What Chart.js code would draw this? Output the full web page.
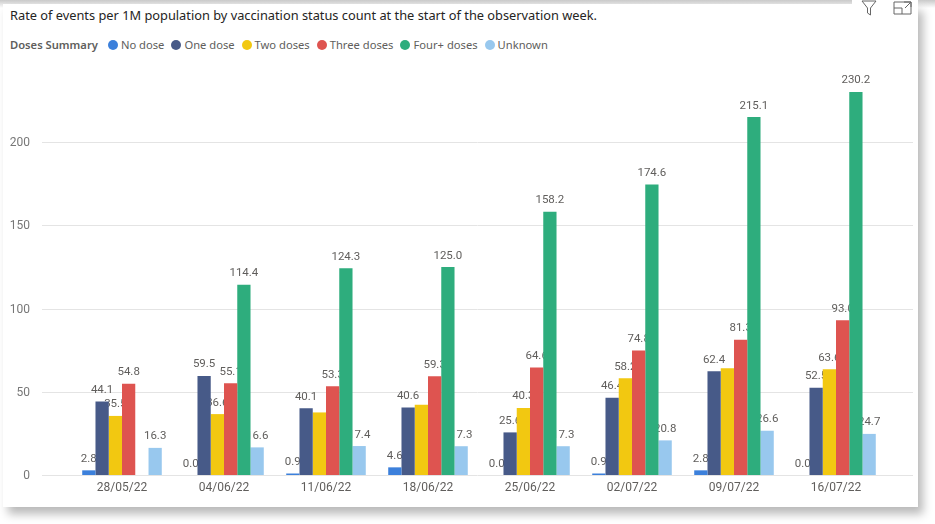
<!DOCTYPE html>
<html>
<head>
<meta charset="utf-8">
<script src="https://cdn.jsdelivr.net/npm/chart.js@4.4.1/dist/chart.umd.min.js"></script>
<style>
  body { margin: 0; width: 935px; height: 524px; background: #fff; overflow: hidden; position: relative; font-family: "Segoe UI", "Noto Sans", sans-serif; }
  .topshade { position: absolute; left: 0; top: 0; width: 935px; height: 8px; background: linear-gradient(#c9c9c9, #fff); }
  .card { position: absolute; left: 3px; top: 4px; width: 915px; height: 503px; background: #fff; box-shadow: 5px 7px 9px rgba(0, 0, 0, 0.28); }
  .icons { position: absolute; left: 852px; top: 0; width: 66px; height: 17px; background: #fff; }
  .title { position: absolute; left: 10px; top: 6px; font-size: 12.8px; color: #252423; white-space: nowrap; }
  .legend { position: absolute; left: 10px; top: 37px; font-size: 11.2px; color: #605E5C; display: flex; align-items: center; white-space: nowrap; }
  .legend b { font-weight: 600; margin-right: 10px; }
  .legend span.item { display: flex; align-items: center; margin-right: 7px; }
  .legend i { display: inline-block; width: 10px; height: 10px; border-radius: 50%; margin-right: 3px; }
  .wrap { position: absolute; left: 0; top: 0; width: 918px; height: 507px; }
  canvas { display: block; }
</style>
</head>
<body>
<div class="topshade"></div>
<div class="card"></div>
<div class="icons">
  <svg width="66" height="17" viewBox="0 0 66 17">
    <path d="M10 1 L24 1 L18.5 8 L18.5 15 L15.5 13 L15.5 8 Z" fill="none" stroke="#666" stroke-width="1"/>
    <path d="M42 2 L42 14 L59 14 L59 2 Z M42 8 L50 8 L50 14 M52 2 L59 2 L59 7 M59 2 L53 8" fill="none" stroke="#666" stroke-width="1"/>
  </svg>
</div>
<div class="title">Rate of events per 1M population by vaccination status count at the start of the observation week.</div>
<div class="legend" id="legend"><b>Doses Summary</b></div>
<div class="wrap"><canvas id="chart" width="918" height="507"></canvas></div>
<script>
const categories = ['28/05/22', '04/06/22', '11/06/22', '18/06/22', '25/06/22', '02/07/22', '09/07/22', '16/07/22'];
const seriesNames = ['No dose', 'One dose', 'Two doses', 'Three doses', 'Four+ doses', 'Unknown'];
const seriesColors = ['#3C80DB', '#475A88', '#F2C811', '#DE5450', '#2EAD7D', '#98C8EE'];

const noDose = [2.8, 0.0, 0.9, 4.6, 0.0, 0.9, 2.8, 0.0];
const oneDose = [44.1, 59.5, 40.1, 40.6, 25.6, 46.4, 62.4, 52.5];
const twoDoses = [35.5, 36.6, 37.6, 42.2, 40.3, 58.2, 64.2, 63.6];
const threeDoses = [54.8, 55.1, 53.3, 59.3, 64.6, 74.8, 81.3, 93.0];
const fourPlusDoses = [null, 114.4, 124.3, 125.0, 158.2, 174.6, 215.1, 230.2];
const unknown = [16.3, 16.6, 17.4, 17.3, 17.3, 20.8, 26.6, 24.7];

const yTicks = [0, 50, 100, 150, 200];
// labels Power BI dropped because they collided
const hiddenTwoDoseLabels = ['11/06/22', '18/06/22', '09/07/22'];

const seriesValues = [noDose, oneDose, twoDoses, threeDoses, fourPlusDoses, unknown];

function buildLegend() {
    const legend = document.getElementById('legend');
    seriesNames.forEach((name, i) => {
        const item = document.createElement('span');
        item.className = 'item';
        item.innerHTML = `<i style="background:${seriesColors[i]}"></i>${name}`;
        legend.appendChild(item);
    });
}

// gridlines run wider than the bars in Power BI, so draw them (and the y labels) here
const gridLines = {
    id: 'gridLines',
    beforeDatasetsDraw(chart) {
        const { ctx, chartArea } = chart;
        const y = chart.scales.y;
        ctx.save();
        ctx.strokeStyle = '#e4e4e4';
        ctx.lineWidth = 1;
        ctx.font = '12px Roboto';
        ctx.fillStyle = '#777777';
        ctx.textAlign = 'right';
        ctx.textBaseline = 'middle';
        yTicks.forEach(v => {
            const py = Math.round(y.getPixelForValue(v)) + 0.5;
            ctx.beginPath();
            ctx.moveTo(chartArea.left - 29, py);
            ctx.lineTo(chartArea.right + 26, py);
            ctx.stroke();
            ctx.fillText(String(v), chartArea.left - 41, py);
        });
        ctx.restore();
    }
};

// labels go behind the bars, like the original
const valueLabels = {
    id: 'valueLabels',
    beforeDatasetsDraw(chart) {
        const ctx = chart.ctx;
        ctx.save();
        ctx.font = '11.5px Roboto';
        ctx.fillStyle = '#605E5C';
        ctx.textAlign = 'center';
        ctx.textBaseline = 'alphabetic';
        chart.data.datasets.forEach((ds, i) => {
            const meta = chart.getDatasetMeta(i);
            meta.data.forEach((bar, j) => {
                const v = ds.data[j];
                if (v === null) return;
                if (i === 2 && hiddenTwoDoseLabels.includes(categories[j])) return;
                ctx.fillText(v.toFixed(1), bar.x, bar.y - 8.5);
            });
        });
        ctx.restore();
    }
};

document.addEventListener('DOMContentLoaded', () => {
    buildLegend();

    new Chart(document.getElementById('chart'), {
        type: 'bar',
        data: {
            labels: categories,
            datasets: seriesNames.map((name, i) => ({
                label: name,
                data: seriesValues[i],
                backgroundColor: seriesColors[i],
                borderWidth: 0,
                barPercentage: 1.0,
                categoryPercentage: 0.78
            }))
        },
        options: {
            responsive: false,
            animation: false,
            devicePixelRatio: 1,
            layout: { padding: { top: 59, right: 31, left: 0, bottom: 0 } },
            plugins: {
                legend: { display: false },
                tooltip: { enabled: false }
            },
            scales: {
                x: {
                    grid: { display: false, drawTicks: false },
                    border: { display: false },
                    ticks: { padding: 6, color: '#605E5C', font: { family: 'Roboto', size: 12 } },
                    afterFit: scale => { scale.height = 32; }
                },
                y: {
                    min: 0,
                    max: 250,
                    grid: { display: false, drawTicks: false },
                    border: { display: false },
                    ticks: { display: false, stepSize: 50 },
                    afterFit: scale => { scale.width = 71; }
                }
            }
        },
        plugins: [gridLines, valueLabels]
    });
});
</script>
</body>
</html>
